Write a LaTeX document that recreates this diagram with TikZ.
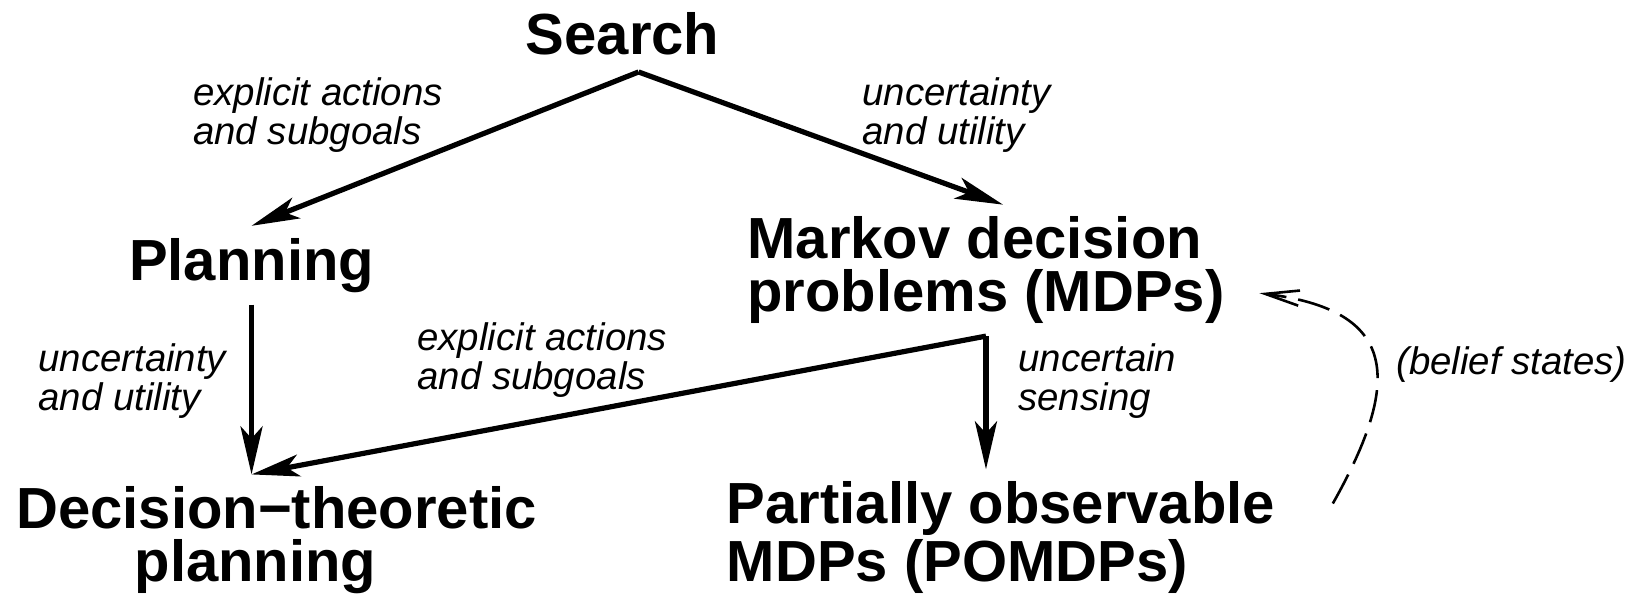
\documentclass[tikz,border=0pt]{standalone}
\usepackage{fontspec}
\setmainfont{Liberation Sans}
\usetikzlibrary{arrows.meta}
\tikzset{
  topic/.style={font=\bfseries\fontsize{14.5}{13.25}\selectfont,inner sep=1mm,anchor=base},
  note/.style={font=\itshape\fontsize{9.6}{9.75}\selectfont,inner sep=0pt,align=left,anchor=base west},
  link/.style={line width=1.3pt,-{Stealth[length=12pt,width=5.5pt,inset=3pt]}},
  hint/.style={line width=0.65pt,dash pattern=on 8.2pt off 3pt,-{Straight Barb[length=8.5pt,width=3.8pt]}}
}
\begin{document}
\begin{tikzpicture}
\useasboundingbox (0,0) rectangle (14.47,-5.228);
\node[topic] (search) at (5.47,-0.48){Search};
\node[topic] (planning) at (2.21,-2.46){Planning};
\node[topic,align=left,anchor=base west] (mdp) at (6.46,-2.74){Markov decision\\problems (MDPs)};
\node[topic,align=center] (dtp) at (2.43,-5.11){Decision−theoretic\\planning\hspace*{3.7mm}};
\node[topic,align=left,anchor=base west] (pomdp) at (6.28,-5.11){Partially observable\\MDPs (POMDPs)};
\node[note] (ea1) at (1.69,-1.27){explicit actions\\and subgoals};
\node[note] (uu1) at (7.57,-1.27){uncertainty\\and utility};
\node[note] (uu2) at (0.33,-3.61){uncertainty\\and utility};
\node[note] (ea2) at (3.66,-3.42){explicit actions\\and subgoals};
\node[note] (us) at (8.94,-3.61){uncertain\\sensing};
\node[note] (bs) at (12.26,-3.29){(belief states)};
\coordinate (apex) at ([xshift=1.4mm,yshift=-0.4mm]search.south);
\coordinate (join) at (planning.south |- dtp.north);
\draw[link] (apex) -- (planning.north);
\draw[link] (apex) -- ([xshift=1.5mm]mdp.north);
\draw[link] (planning.south) -- (join);
\draw[link] (mdp.south) -- (join);
\draw[link] (mdp.south) -- (mdp.south |- pomdp.north);
% belief states loop back
\draw[hint] ([shift={(0.40,-0.30)}]pomdp.north east) .. controls +(0.62,1.10) and +(1.21,-0.15) .. ([shift={(0.20,-0.20)}]mdp.east);
\end{tikzpicture}
\end{document}
